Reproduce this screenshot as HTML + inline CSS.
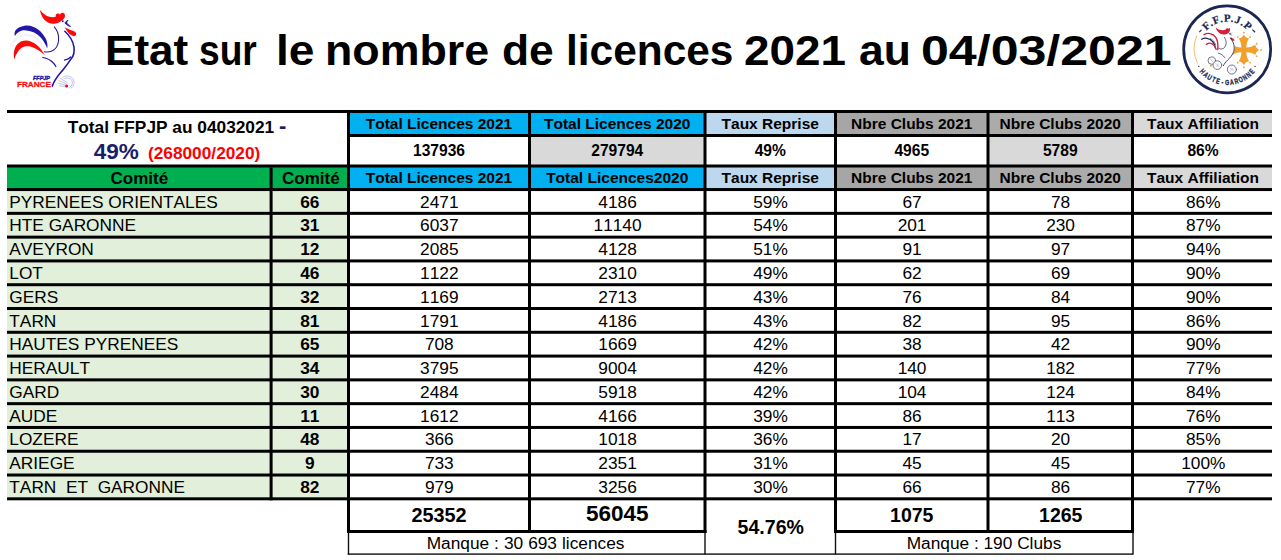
<!DOCTYPE html>
<html><head><meta charset="utf-8"><title>Etat licences</title>
<style>
html,body{margin:0;padding:0;background:#fff;}
body{width:1281px;height:560px;position:relative;overflow:hidden;font-family:"Liberation Sans",sans-serif;color:#000;}
#g div{position:absolute;}
#g .t{text-align:center;white-space:nowrap;font-size:16.6px;font-kerning:none;}
#g .b{font-weight:bold;}
#g .h{font-size:15.5px;}
#g .s{font-size:15.6px;}
#g .c{font-size:17px;}
#g .d{font-size:17.3px;}
#g .k{font-size:21px;transform:scaleX(0.93);}
#title span{position:absolute;top:20px;font-weight:bold;font-size:43px;line-height:60px;white-space:nowrap;transform-origin:0 0;}
</style></head><body>
<div id="title"><span style="left:104.83px;transform:scaleX(1.0253)">Etat</span><span style="left:199.04px;transform:scaleX(0.864)">sur</span><span style="left:276.3px;transform:scaleX(1.0728)">le</span><span style="left:324.82px;transform:scaleX(1.0408)">nombre</span><span style="left:502.05px;transform:scaleX(1.0321)">de</span><span style="left:566.34px;transform:scaleX(0.9862)">licences</span><span style="left:744.03px;transform:scaleX(1.0666)">2021</span><span style="left:858.87px;transform:scaleX(1.0328)">au</span><span style="left:920.53px;transform:scaleX(1.1648)">04/03/2021</span></div>
<svg id="logoL" style="position:absolute;left:0;top:0" width="100" height="100" viewBox="0 0 560 560">
 <g fill="none" stroke-linecap="round" stroke-linejoin="round">
  <path d="M223,55 C250,92 290,104 313,93 C311,84 314,79 320,77 C327,74 332,78 336,83 C338,75 344,71 351,72 C359,73 365,80 364,89 C363,97 360,102 356,106 C345,120 322,132 298,133 C266,134 240,108 230,80 C226,70 224,62 223,55 Z" fill="#fb0a0a" stroke="none"/>
  <path d="M362,152 C382,166 410,168 423,180 C431,190 424,203 412,201 C394,198 374,176 362,152 Z" fill="#fb0a0a" stroke="none"/>
  <circle cx="352" cy="119" r="5" fill="#2218a8" stroke="none"/>
  <path d="M379,115 C370,119 365,124 364,129 C372,140 384,146 395,148 C384,141 376,134 374,128 C374,122 376,118 379,115 Z" fill="#2218a8" stroke="#2218a8" stroke-width="5"/>
  <path d="M363,175 C385,195 408,225 414,262 C420,300 408,318 398,330 C385,350 370,370 348,397 C328,420 305,445 293,482" stroke="#2218a8" stroke-width="9"/>
  <path d="M361,337 C375,333 388,327 396,319" stroke="#2218a8" stroke-width="7"/>
  <path d="M304,150 C318,165 330,195 328,225 C326,255 310,278 288,287 C275,292 260,292 248,290" stroke="#2218a8" stroke-width="6"/>
  <path d="M240,322 C262,326 283,336 296,350 C304,358 310,366 313,372" stroke="#2218a8" stroke-width="7"/>
  <path d="M84,202 C74,178 92,152 138,144 C192,137 238,178 258,220 C266,240 268,258 264,272 C258,254 248,234 228,210 C205,186 175,172 138,170 C112,170 94,184 84,202 Z" fill="#2218a8" stroke="none"/>
  <path d="M61,262 C72,228 100,200 143,196 C190,194 228,228 247,272" stroke="#ececef" stroke-width="14" stroke-dasharray="2.5 1.5" stroke-linecap="butt"/>
  <path d="M80,333 C74,300 78,268 98,247 C112,233 128,227 146,227 C186,228 226,260 251,310 C228,288 200,270 170,261 C142,254 120,262 106,282 C94,298 86,314 80,333 Z" fill="#fb0a0a" stroke="none"/>
  <path d="M352,432 C372,420 398,424 410,444 C420,462 414,484 398,494 M362,440 C380,432 398,438 404,454 C408,468 402,482 392,488 M330,452 L372,470 M328,466 L368,478 M332,480 L366,486 M340,440 L376,462" stroke="#7a76d0" stroke-width="2.5"/>
  <circle cx="373" cy="482" r="8.5" fill="#fb0a0a" stroke="none"/>
 </g>
 <text x="185" y="447" font-family="Liberation Sans, sans-serif" font-weight="bold" font-style="italic" font-size="28" fill="#2218a8" stroke="#2218a8" stroke-width="2.2" textLength="95" lengthAdjust="spacingAndGlyphs">FFPJP</text>
 <text x="95" y="489.5" font-family="Liberation Sans, sans-serif" font-weight="bold" font-size="41.5" fill="#fb0a0a" stroke="#fb0a0a" stroke-width="1.5" textLength="190" lengthAdjust="spacingAndGlyphs">FRANCE</text>
</svg>
<svg id="logoR" style="position:absolute;left:1171px;top:0" width="110" height="110" viewBox="0 0 560 560">
 <defs>
  <path id="arcT" d="M 145,251 A 141,141 0 0 1 427,251"/>
  <path id="arcB" d="M 104,251 A 182,182 0 0 0 468,251"/>
 </defs>
 <circle cx="286" cy="251" r="221.5" fill="#fff" stroke="#1b2752" stroke-width="14"/>
 <path d="M131,182 A 170,170 0 0 0 135,322" fill="none" stroke="#f0a030" stroke-width="3.6"/>
 <text font-family="Liberation Serif, serif" font-weight="bold" font-size="55" fill="#1b2752" stroke="#1b2752" stroke-width="1.2"><textPath href="#arcT" startOffset="50%" text-anchor="middle" textLength="238" lengthAdjust="spacing">F.F.P.J.P</textPath></text>
 <path d="M144,164 L155.5,152 M414.5,150.5 L428,164" stroke="#1b2752" stroke-width="6" fill="none"/>
 <g font-family="Liberation Sans, sans-serif" font-weight="bold" font-size="39" fill="#1b2752" stroke="#1b2752" stroke-width="1.6"><text transform="translate(150.7,372.8) rotate(48) scale(0.7,1)" text-anchor="middle">H</text><text transform="translate(169.0,390.4) rotate(40) scale(0.7,1)" text-anchor="middle">A</text><text transform="translate(189.6,405.3) rotate(32) scale(0.7,1)" text-anchor="middle">U</text><text transform="translate(212.0,417.3) rotate(24) scale(0.7,1)" text-anchor="middle">T</text><text transform="translate(235.8,425.9) rotate(16) scale(0.7,1)" text-anchor="middle">E</text><text transform="translate(260.7,431.2) rotate(8) scale(0.7,1)" text-anchor="middle">-</text><text transform="translate(286.0,433.0) rotate(0) scale(0.7,1)" text-anchor="middle">G</text><text transform="translate(311.3,431.2) rotate(-8) scale(0.7,1)" text-anchor="middle">A</text><text transform="translate(336.2,425.9) rotate(-16) scale(0.7,1)" text-anchor="middle">R</text><text transform="translate(360.0,417.3) rotate(-24) scale(0.7,1)" text-anchor="middle">O</text><text transform="translate(382.4,405.3) rotate(-32) scale(0.7,1)" text-anchor="middle">N</text><text transform="translate(403.0,390.4) rotate(-40) scale(0.7,1)" text-anchor="middle">N</text><text transform="translate(421.3,372.8) rotate(-48) scale(0.7,1)" text-anchor="middle">E</text></g>
 <circle cx="141.5" cy="338" r="3.5" fill="#1b2752"/><circle cx="428" cy="338" r="3.5" fill="#1b2752"/>
 <!-- occitan cross -->
 <g fill="#f2a02c" transform="translate(371,254) scale(1.05)">
  <path d="M-12,-13 C-13,-30 -17,-44 -25,-55 L-11,-60 L0,-73 L11,-60 L25,-55 C17,-44 13,-30 12,-13 L13,-12 C30,-13 44,-17 55,-25 L60,-11 L73,0 L60,11 L55,25 C44,17 30,13 13,12 L12,13 C13,30 17,44 25,55 L11,60 L0,73 L-11,60 L-25,55 C-17,44 -13,30 -12,13 L-13,12 C-30,13 -44,17 -55,25 L-60,11 L-73,0 L-60,-11 L-55,-25 C-44,-17 -30,-13 -13,-12 Z"/>
  <circle cx="-30" cy="-62" r="4.5"/><circle cx="30" cy="-62" r="4.5"/><circle cx="0" cy="-84" r="4.5"/>
  <circle cx="-30" cy="62" r="4.5"/><circle cx="30" cy="62" r="4.5"/><circle cx="0" cy="84" r="4.5"/>
  <circle cx="62" cy="-30" r="4.5"/><circle cx="62" cy="30" r="4.5"/><circle cx="84" cy="0" r="4.5"/>
 </g>
 <!-- rooster -->
 <g fill="none" stroke-linecap="round">
  <path d="M300,185 C322,200 330,230 320,262 C314,285 298,300 286,312 C278,320 272,328 268,336 L250,300 C262,280 270,250 268,215 Z" fill="#fff" stroke="none"/>
  <path d="M227,139 C240,153 262,158 279,150 C281,143 288,141 292,146 L300,143 C304,156 297,168 284,173 C260,182 234,168 227,139 Z" fill="#d81e3c" stroke="none"/>
  <path d="M303,190 C312,194 320,198 324,205 C318,212 306,206 301,197 Z" fill="#d81e3c" stroke="none"/>
  <path d="M294,168 L308,178 M300,174 L306,168" stroke="#1b2752" stroke-width="3.5"/>
  <path d="M168,176 C186,166 212,168 228,190 C238,206 240,232 238,252" stroke="#d81e3c" stroke-width="7"/>
  <path d="M156,200 C172,190 196,192 212,212 C220,222 224,232 226,244" stroke="#1b2752" stroke-width="6.5"/>
  <path d="M180,226 C194,216 210,218 222,234 C226,240 228,246 230,252" stroke="#d81e3c" stroke-width="6.5"/>
  <path d="M200,196 C212,200 222,212 228,230" stroke="#1b2752" stroke-width="3"/>
  <path d="M272,190 C282,205 284,225 274,240 C266,250 254,252 244,247" stroke="#1b2752" stroke-width="3.5"/>
  <path d="M303,193 C320,215 326,240 319,262 C314,280 300,295 288,306 C278,316 270,326 267,334" stroke="#2a3158" stroke-width="4.5"/>
  <path d="M240,270 C252,272 266,282 274,293" stroke="#1b2752" stroke-width="3.5"/>
  <circle cx="207.5" cy="308.5" r="19" stroke="#5d6485" stroke-width="4.5" fill="#fff"/>
  <circle cx="236" cy="331.5" r="22" stroke="#5d6485" stroke-width="4.5" fill="#fff"/>
  <circle cx="310" cy="354" r="23" stroke="#5d6485" stroke-width="4.5" fill="#fff"/>
  <path d="M200,300 L212,314 M226,322 L246,340 M232,340 L242,324 M300,346 L320,362 M304,362 L316,346" stroke="#9a9fb5" stroke-width="2.5"/>
  <rect x="198.5" y="330" width="9" height="9" fill="#f2a02c" stroke="none"/>
 </g>
</svg>

<svg style="position:absolute;left:0;top:0" width="1281" height="560" viewBox="0 0 1281 560">
<rect x="348.50" y="111.50" width="181.00" height="24.00" fill="#00b0f0"/>
<rect x="348.50" y="135.50" width="181.00" height="30.50" fill="#fff"/>
<rect x="348.50" y="166.00" width="181.00" height="23.55" fill="#00b0f0"/>
<rect x="529.50" y="111.50" width="175.50" height="24.00" fill="#00b0f0"/>
<rect x="529.50" y="135.50" width="175.50" height="30.50" fill="#d9d9d9"/>
<rect x="529.50" y="166.00" width="175.50" height="23.55" fill="#00b0f0"/>
<rect x="705.00" y="111.50" width="130.50" height="24.00" fill="#bdd7ee"/>
<rect x="705.00" y="135.50" width="130.50" height="30.50" fill="#fff"/>
<rect x="705.00" y="166.00" width="130.50" height="23.55" fill="#bdd7ee"/>
<rect x="835.50" y="111.50" width="152.50" height="24.00" fill="#a6a6a6"/>
<rect x="835.50" y="135.50" width="152.50" height="30.50" fill="#fff"/>
<rect x="835.50" y="166.00" width="152.50" height="23.55" fill="#a6a6a6"/>
<rect x="988.00" y="111.50" width="144.50" height="24.00" fill="#ababab"/>
<rect x="988.00" y="135.50" width="144.50" height="30.50" fill="#d9d9d9"/>
<rect x="988.00" y="166.00" width="144.50" height="23.55" fill="#ababab"/>
<rect x="1132.50" y="111.50" width="139.50" height="24.00" fill="#d9d9d9"/>
<rect x="1132.50" y="135.50" width="139.50" height="30.50" fill="#fff"/>
<rect x="1132.50" y="166.00" width="139.50" height="23.55" fill="#d9d9d9"/>
<rect x="7.00" y="166.00" width="264.10" height="23.55" fill="#00b050"/>
<rect x="271.10" y="166.00" width="77.40" height="23.55" fill="#00b050"/>
<rect x="7.00" y="189.55" width="264.10" height="309.27" fill="#e2efda"/>
<rect x="271.10" y="189.55" width="77.40" height="309.27" fill="#e2efda"/>
<rect x="7.00" y="110.00" width="1265.00" height="3.00" fill="#000"/>
<rect x="347.00" y="134.00" width="925.00" height="3.00" fill="#000"/>
<rect x="7.00" y="164.50" width="1265.00" height="3.00" fill="#000"/>
<rect x="7.00" y="188.05" width="1265.00" height="3.00" fill="#000"/>
<rect x="7.00" y="211.84" width="1265.00" height="3.00" fill="#000"/>
<rect x="7.00" y="235.63" width="1265.00" height="3.00" fill="#000"/>
<rect x="7.00" y="259.42" width="1265.00" height="3.00" fill="#000"/>
<rect x="7.00" y="283.21" width="1265.00" height="3.00" fill="#000"/>
<rect x="7.00" y="307.00" width="1265.00" height="3.00" fill="#000"/>
<rect x="7.00" y="330.79" width="1265.00" height="3.00" fill="#000"/>
<rect x="7.00" y="354.58" width="1265.00" height="3.00" fill="#000"/>
<rect x="7.00" y="378.37" width="1265.00" height="3.00" fill="#000"/>
<rect x="7.00" y="402.16" width="1265.00" height="3.00" fill="#000"/>
<rect x="7.00" y="425.95" width="1265.00" height="3.00" fill="#000"/>
<rect x="7.00" y="449.74" width="1265.00" height="3.00" fill="#000"/>
<rect x="7.00" y="473.53" width="1265.00" height="3.00" fill="#000"/>
<rect x="7.00" y="497.32" width="1265.00" height="3.00" fill="#000"/>
<rect x="347.00" y="530.00" width="359.50" height="3.00" fill="#000"/>
<rect x="834.00" y="530.00" width="300.00" height="3.00" fill="#000"/>
<rect x="347.60" y="553.40" width="785.60" height="1.40" fill="#111"/>
<rect x="269.60" y="167.50" width="3.00" height="332.82" fill="#000"/>
<rect x="347.00" y="110.00" width="3.00" height="423.00" fill="#000"/>
<rect x="528.00" y="110.00" width="3.00" height="423.00" fill="#000"/>
<rect x="703.50" y="110.00" width="3.00" height="423.00" fill="#000"/>
<rect x="834.00" y="110.00" width="3.00" height="423.00" fill="#000"/>
<rect x="986.50" y="110.00" width="3.00" height="423.00" fill="#000"/>
<rect x="1131.00" y="110.00" width="3.00" height="423.00" fill="#000"/>
<rect x="347.80" y="533.00" width="1.40" height="21.50" fill="#111"/>
<rect x="704.30" y="533.00" width="1.40" height="21.50" fill="#111"/>
<rect x="834.80" y="533.00" width="1.40" height="21.50" fill="#111"/>
<rect x="1132.30" y="533.00" width="1.40" height="21.50" fill="#111"/>
</svg>
<div id="g">
<!-- text -->
<div class="t b" style="left:7.00px;top:114.00px;width:340.00px;height:26.00px;line-height:26.00px;font-size:17.3px;">Total FFPJP au 04032021 <span style="color:#18206c;font-size:22px;line-height:10px">-</span></div>
<div class="t b" style="left:7.00px;top:137.00px;width:340.00px;height:30.00px;line-height:30.00px;"><span style="color:#18206c;font-size:22.5px">49%</span>&nbsp; <span style="color:#ff0000;font-size:17.3px">(268000/2020)</span></div>
<div class="t b h" style="left:350.00px;top:113.00px;width:178.00px;height:21.00px;line-height:21.00px;">Total Licences 2021</div>
<div class="t b s" style="left:350.00px;top:137.00px;width:178.00px;height:27.50px;line-height:27.50px;">137936</div>
<div class="t b h" style="left:350.00px;top:167.50px;width:178.00px;height:20.55px;line-height:20.55px;">Total Licences 2021</div>
<div class="t b h" style="left:531.00px;top:113.00px;width:172.50px;height:21.00px;line-height:21.00px;">Total Licences 2020</div>
<div class="t b s" style="left:531.00px;top:137.00px;width:172.50px;height:27.50px;line-height:27.50px;">279794</div>
<div class="t b h" style="left:531.00px;top:167.50px;width:172.50px;height:20.55px;line-height:20.55px;">Total Licences2020</div>
<div class="t b h" style="left:706.50px;top:113.00px;width:127.50px;height:21.00px;line-height:21.00px;">Taux Reprise</div>
<div class="t b s" style="left:706.50px;top:137.00px;width:127.50px;height:27.50px;line-height:27.50px;">49%</div>
<div class="t b h" style="left:706.50px;top:167.50px;width:127.50px;height:20.55px;line-height:20.55px;">Taux Reprise</div>
<div class="t b h" style="left:837.00px;top:113.00px;width:149.50px;height:21.00px;line-height:21.00px;">Nbre Clubs 2021</div>
<div class="t b s" style="left:837.00px;top:137.00px;width:149.50px;height:27.50px;line-height:27.50px;">4965</div>
<div class="t b h" style="left:837.00px;top:167.50px;width:149.50px;height:20.55px;line-height:20.55px;">Nbre Clubs 2021</div>
<div class="t b h" style="left:989.50px;top:113.00px;width:141.50px;height:21.00px;line-height:21.00px;">Nbre Clubs 2020</div>
<div class="t b s" style="left:989.50px;top:137.00px;width:141.50px;height:27.50px;line-height:27.50px;">5789</div>
<div class="t b h" style="left:989.50px;top:167.50px;width:141.50px;height:20.55px;line-height:20.55px;">Nbre Clubs 2020</div>
<div class="t b h" style="left:1134.00px;top:113.00px;width:138.00px;height:21.00px;line-height:21.00px;">Taux Affiliation</div>
<div class="t b s" style="left:1134.00px;top:137.00px;width:138.00px;height:27.50px;line-height:27.50px;">86%</div>
<div class="t b h" style="left:1134.00px;top:167.50px;width:138.00px;height:20.55px;line-height:20.55px;">Taux Affiliation</div>
<div class="t b c" style="left:8.00px;top:168.50px;width:262.60px;height:20.55px;line-height:20.55px;">Comité</div>
<div class="t b c" style="left:273.60px;top:168.50px;width:74.40px;height:20.55px;line-height:20.55px;">Comité</div>
<div class="t d" style="left:9.30px;top:191.55px;width:260.60px;height:20.79px;line-height:20.79px;text-align:left;">PYRENEES ORIENTALES</div>
<div class="t b d" style="left:272.60px;top:191.55px;width:74.40px;height:20.79px;line-height:20.79px;">66</div>
<div class="t d" style="left:350.30px;top:191.55px;width:178.00px;height:20.79px;line-height:20.79px;">2471</div>
<div class="t d" style="left:531.30px;top:191.55px;width:172.50px;height:20.79px;line-height:20.79px;">4186</div>
<div class="t d" style="left:706.80px;top:191.55px;width:127.50px;height:20.79px;line-height:20.79px;">59%</div>
<div class="t d" style="left:837.30px;top:191.55px;width:149.50px;height:20.79px;line-height:20.79px;">67</div>
<div class="t d" style="left:989.80px;top:191.55px;width:141.50px;height:20.79px;line-height:20.79px;">78</div>
<div class="t d" style="left:1134.30px;top:191.55px;width:138.00px;height:20.79px;line-height:20.79px;">86%</div>
<div class="t d" style="left:9.30px;top:215.34px;width:260.60px;height:20.79px;line-height:20.79px;text-align:left;">HTE GARONNE</div>
<div class="t b d" style="left:272.60px;top:215.34px;width:74.40px;height:20.79px;line-height:20.79px;">31</div>
<div class="t d" style="left:350.30px;top:215.34px;width:178.00px;height:20.79px;line-height:20.79px;">6037</div>
<div class="t d" style="left:531.30px;top:215.34px;width:172.50px;height:20.79px;line-height:20.79px;">11140</div>
<div class="t d" style="left:706.80px;top:215.34px;width:127.50px;height:20.79px;line-height:20.79px;">54%</div>
<div class="t d" style="left:837.30px;top:215.34px;width:149.50px;height:20.79px;line-height:20.79px;">201</div>
<div class="t d" style="left:989.80px;top:215.34px;width:141.50px;height:20.79px;line-height:20.79px;">230</div>
<div class="t d" style="left:1134.30px;top:215.34px;width:138.00px;height:20.79px;line-height:20.79px;">87%</div>
<div class="t d" style="left:9.30px;top:239.13px;width:260.60px;height:20.79px;line-height:20.79px;text-align:left;">AVEYRON</div>
<div class="t b d" style="left:272.60px;top:239.13px;width:74.40px;height:20.79px;line-height:20.79px;">12</div>
<div class="t d" style="left:350.30px;top:239.13px;width:178.00px;height:20.79px;line-height:20.79px;">2085</div>
<div class="t d" style="left:531.30px;top:239.13px;width:172.50px;height:20.79px;line-height:20.79px;">4128</div>
<div class="t d" style="left:706.80px;top:239.13px;width:127.50px;height:20.79px;line-height:20.79px;">51%</div>
<div class="t d" style="left:837.30px;top:239.13px;width:149.50px;height:20.79px;line-height:20.79px;">91</div>
<div class="t d" style="left:989.80px;top:239.13px;width:141.50px;height:20.79px;line-height:20.79px;">97</div>
<div class="t d" style="left:1134.30px;top:239.13px;width:138.00px;height:20.79px;line-height:20.79px;">94%</div>
<div class="t d" style="left:9.30px;top:262.92px;width:260.60px;height:20.79px;line-height:20.79px;text-align:left;">LOT</div>
<div class="t b d" style="left:272.60px;top:262.92px;width:74.40px;height:20.79px;line-height:20.79px;">46</div>
<div class="t d" style="left:350.30px;top:262.92px;width:178.00px;height:20.79px;line-height:20.79px;">1122</div>
<div class="t d" style="left:531.30px;top:262.92px;width:172.50px;height:20.79px;line-height:20.79px;">2310</div>
<div class="t d" style="left:706.80px;top:262.92px;width:127.50px;height:20.79px;line-height:20.79px;">49%</div>
<div class="t d" style="left:837.30px;top:262.92px;width:149.50px;height:20.79px;line-height:20.79px;">62</div>
<div class="t d" style="left:989.80px;top:262.92px;width:141.50px;height:20.79px;line-height:20.79px;">69</div>
<div class="t d" style="left:1134.30px;top:262.92px;width:138.00px;height:20.79px;line-height:20.79px;">90%</div>
<div class="t d" style="left:9.30px;top:286.71px;width:260.60px;height:20.79px;line-height:20.79px;text-align:left;">GERS</div>
<div class="t b d" style="left:272.60px;top:286.71px;width:74.40px;height:20.79px;line-height:20.79px;">32</div>
<div class="t d" style="left:350.30px;top:286.71px;width:178.00px;height:20.79px;line-height:20.79px;">1169</div>
<div class="t d" style="left:531.30px;top:286.71px;width:172.50px;height:20.79px;line-height:20.79px;">2713</div>
<div class="t d" style="left:706.80px;top:286.71px;width:127.50px;height:20.79px;line-height:20.79px;">43%</div>
<div class="t d" style="left:837.30px;top:286.71px;width:149.50px;height:20.79px;line-height:20.79px;">76</div>
<div class="t d" style="left:989.80px;top:286.71px;width:141.50px;height:20.79px;line-height:20.79px;">84</div>
<div class="t d" style="left:1134.30px;top:286.71px;width:138.00px;height:20.79px;line-height:20.79px;">90%</div>
<div class="t d" style="left:9.30px;top:310.50px;width:260.60px;height:20.79px;line-height:20.79px;text-align:left;">TARN</div>
<div class="t b d" style="left:272.60px;top:310.50px;width:74.40px;height:20.79px;line-height:20.79px;">81</div>
<div class="t d" style="left:350.30px;top:310.50px;width:178.00px;height:20.79px;line-height:20.79px;">1791</div>
<div class="t d" style="left:531.30px;top:310.50px;width:172.50px;height:20.79px;line-height:20.79px;">4186</div>
<div class="t d" style="left:706.80px;top:310.50px;width:127.50px;height:20.79px;line-height:20.79px;">43%</div>
<div class="t d" style="left:837.30px;top:310.50px;width:149.50px;height:20.79px;line-height:20.79px;">82</div>
<div class="t d" style="left:989.80px;top:310.50px;width:141.50px;height:20.79px;line-height:20.79px;">95</div>
<div class="t d" style="left:1134.30px;top:310.50px;width:138.00px;height:20.79px;line-height:20.79px;">86%</div>
<div class="t d" style="left:9.30px;top:334.29px;width:260.60px;height:20.79px;line-height:20.79px;text-align:left;">HAUTES PYRENEES</div>
<div class="t b d" style="left:272.60px;top:334.29px;width:74.40px;height:20.79px;line-height:20.79px;">65</div>
<div class="t d" style="left:350.30px;top:334.29px;width:178.00px;height:20.79px;line-height:20.79px;">708</div>
<div class="t d" style="left:531.30px;top:334.29px;width:172.50px;height:20.79px;line-height:20.79px;">1669</div>
<div class="t d" style="left:706.80px;top:334.29px;width:127.50px;height:20.79px;line-height:20.79px;">42%</div>
<div class="t d" style="left:837.30px;top:334.29px;width:149.50px;height:20.79px;line-height:20.79px;">38</div>
<div class="t d" style="left:989.80px;top:334.29px;width:141.50px;height:20.79px;line-height:20.79px;">42</div>
<div class="t d" style="left:1134.30px;top:334.29px;width:138.00px;height:20.79px;line-height:20.79px;">90%</div>
<div class="t d" style="left:9.30px;top:358.08px;width:260.60px;height:20.79px;line-height:20.79px;text-align:left;">HERAULT</div>
<div class="t b d" style="left:272.60px;top:358.08px;width:74.40px;height:20.79px;line-height:20.79px;">34</div>
<div class="t d" style="left:350.30px;top:358.08px;width:178.00px;height:20.79px;line-height:20.79px;">3795</div>
<div class="t d" style="left:531.30px;top:358.08px;width:172.50px;height:20.79px;line-height:20.79px;">9004</div>
<div class="t d" style="left:706.80px;top:358.08px;width:127.50px;height:20.79px;line-height:20.79px;">42%</div>
<div class="t d" style="left:837.30px;top:358.08px;width:149.50px;height:20.79px;line-height:20.79px;">140</div>
<div class="t d" style="left:989.80px;top:358.08px;width:141.50px;height:20.79px;line-height:20.79px;">182</div>
<div class="t d" style="left:1134.30px;top:358.08px;width:138.00px;height:20.79px;line-height:20.79px;">77%</div>
<div class="t d" style="left:9.30px;top:381.87px;width:260.60px;height:20.79px;line-height:20.79px;text-align:left;">GARD</div>
<div class="t b d" style="left:272.60px;top:381.87px;width:74.40px;height:20.79px;line-height:20.79px;">30</div>
<div class="t d" style="left:350.30px;top:381.87px;width:178.00px;height:20.79px;line-height:20.79px;">2484</div>
<div class="t d" style="left:531.30px;top:381.87px;width:172.50px;height:20.79px;line-height:20.79px;">5918</div>
<div class="t d" style="left:706.80px;top:381.87px;width:127.50px;height:20.79px;line-height:20.79px;">42%</div>
<div class="t d" style="left:837.30px;top:381.87px;width:149.50px;height:20.79px;line-height:20.79px;">104</div>
<div class="t d" style="left:989.80px;top:381.87px;width:141.50px;height:20.79px;line-height:20.79px;">124</div>
<div class="t d" style="left:1134.30px;top:381.87px;width:138.00px;height:20.79px;line-height:20.79px;">84%</div>
<div class="t d" style="left:9.30px;top:405.66px;width:260.60px;height:20.79px;line-height:20.79px;text-align:left;">AUDE</div>
<div class="t b d" style="left:272.60px;top:405.66px;width:74.40px;height:20.79px;line-height:20.79px;">11</div>
<div class="t d" style="left:350.30px;top:405.66px;width:178.00px;height:20.79px;line-height:20.79px;">1612</div>
<div class="t d" style="left:531.30px;top:405.66px;width:172.50px;height:20.79px;line-height:20.79px;">4166</div>
<div class="t d" style="left:706.80px;top:405.66px;width:127.50px;height:20.79px;line-height:20.79px;">39%</div>
<div class="t d" style="left:837.30px;top:405.66px;width:149.50px;height:20.79px;line-height:20.79px;">86</div>
<div class="t d" style="left:989.80px;top:405.66px;width:141.50px;height:20.79px;line-height:20.79px;">113</div>
<div class="t d" style="left:1134.30px;top:405.66px;width:138.00px;height:20.79px;line-height:20.79px;">76%</div>
<div class="t d" style="left:9.30px;top:429.45px;width:260.60px;height:20.79px;line-height:20.79px;text-align:left;">LOZERE</div>
<div class="t b d" style="left:272.60px;top:429.45px;width:74.40px;height:20.79px;line-height:20.79px;">48</div>
<div class="t d" style="left:350.30px;top:429.45px;width:178.00px;height:20.79px;line-height:20.79px;">366</div>
<div class="t d" style="left:531.30px;top:429.45px;width:172.50px;height:20.79px;line-height:20.79px;">1018</div>
<div class="t d" style="left:706.80px;top:429.45px;width:127.50px;height:20.79px;line-height:20.79px;">36%</div>
<div class="t d" style="left:837.30px;top:429.45px;width:149.50px;height:20.79px;line-height:20.79px;">17</div>
<div class="t d" style="left:989.80px;top:429.45px;width:141.50px;height:20.79px;line-height:20.79px;">20</div>
<div class="t d" style="left:1134.30px;top:429.45px;width:138.00px;height:20.79px;line-height:20.79px;">85%</div>
<div class="t d" style="left:9.30px;top:453.24px;width:260.60px;height:20.79px;line-height:20.79px;text-align:left;">ARIEGE</div>
<div class="t b d" style="left:272.60px;top:453.24px;width:74.40px;height:20.79px;line-height:20.79px;">9</div>
<div class="t d" style="left:350.30px;top:453.24px;width:178.00px;height:20.79px;line-height:20.79px;">733</div>
<div class="t d" style="left:531.30px;top:453.24px;width:172.50px;height:20.79px;line-height:20.79px;">2351</div>
<div class="t d" style="left:706.80px;top:453.24px;width:127.50px;height:20.79px;line-height:20.79px;">31%</div>
<div class="t d" style="left:837.30px;top:453.24px;width:149.50px;height:20.79px;line-height:20.79px;">45</div>
<div class="t d" style="left:989.80px;top:453.24px;width:141.50px;height:20.79px;line-height:20.79px;">45</div>
<div class="t d" style="left:1134.30px;top:453.24px;width:138.00px;height:20.79px;line-height:20.79px;">100%</div>
<div class="t d" style="left:9.30px;top:477.03px;width:260.60px;height:20.79px;line-height:20.79px;text-align:left;">TARN&nbsp; ET&nbsp; GARONNE</div>
<div class="t b d" style="left:272.60px;top:477.03px;width:74.40px;height:20.79px;line-height:20.79px;">82</div>
<div class="t d" style="left:350.30px;top:477.03px;width:178.00px;height:20.79px;line-height:20.79px;">979</div>
<div class="t d" style="left:531.30px;top:477.03px;width:172.50px;height:20.79px;line-height:20.79px;">3256</div>
<div class="t d" style="left:706.80px;top:477.03px;width:127.50px;height:20.79px;line-height:20.79px;">30%</div>
<div class="t d" style="left:837.30px;top:477.03px;width:149.50px;height:20.79px;line-height:20.79px;">66</div>
<div class="t d" style="left:989.80px;top:477.03px;width:141.50px;height:20.79px;line-height:20.79px;">86</div>
<div class="t d" style="left:1134.30px;top:477.03px;width:138.00px;height:20.79px;line-height:20.79px;">77%</div>
<div class="t b k" style="left:350.00px;top:500.32px;width:178.00px;height:29.68px;line-height:29.68px;transform:scaleX(0.945);">25352</div>
<div class="t b k" style="left:531.00px;top:499.32px;width:172.50px;height:29.68px;line-height:29.68px;font-size:22.5px;transform:scaleX(1.0);">56045</div>
<div class="t b k" style="left:837.00px;top:500.32px;width:149.50px;height:29.68px;line-height:29.68px;">1075</div>
<div class="t b k" style="left:989.50px;top:500.32px;width:141.50px;height:29.68px;line-height:29.68px;">1265</div>
<div class="t b k" style="left:706.50px;top:500.32px;width:127.50px;height:53.18px;line-height:53.18px;">54.76%</div>
<div class="t d" style="left:347.80px;top:533.00px;width:355.50px;height:20.50px;line-height:20.50px;word-spacing:0.2px;">Manque : 30 693 licences</div>
<div class="t d" style="left:836.00px;top:533.00px;width:296.00px;height:20.50px;line-height:20.50px;">Manque : 190 Clubs</div>
</div>
</body></html>
